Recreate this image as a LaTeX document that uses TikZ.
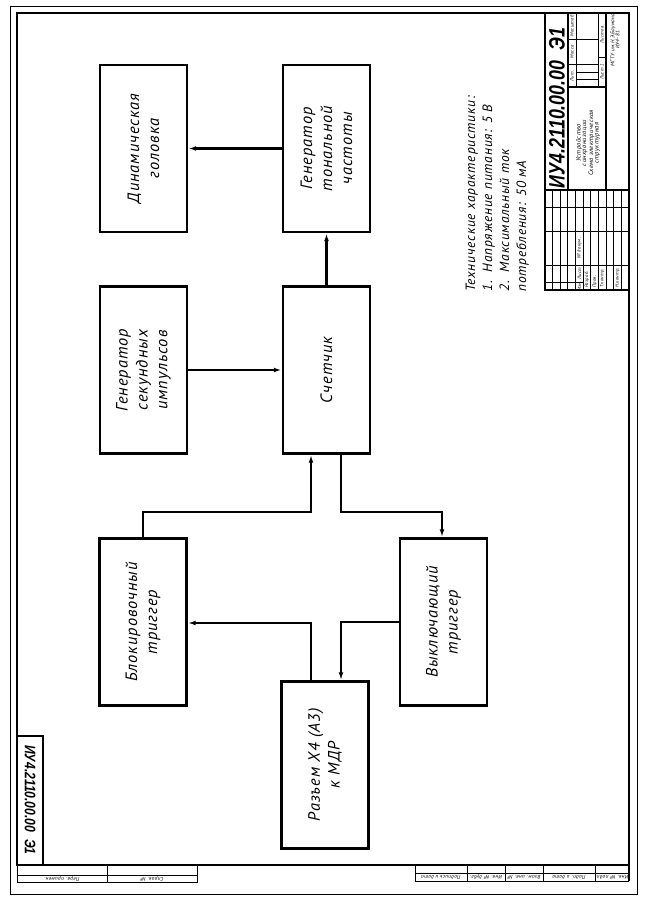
\documentclass[tikz,border=0pt]{standalone}
\usepackage{fontspec}
\setmainfont{PT Sans}[LetterSpace=6]
\newfontfamily\desfont{Liberation Sans}[FakeStretch=0.8]
\usetikzlibrary{arrows.meta}
\begin{document}
\begin{tikzpicture}[x=0.03cm,y=-0.03cm,
  box/.style={draw, line width=2.4pt, minimum width=2.61cm, minimum height=5.01cm, inner sep=0pt},
  btxt/.style={rotate=90, align=center, font=\fontsize{14}{17}\selectfont\itshape, inner sep=0pt},
  conn/.style={line width=2.1pt, -{Latex[length=6.5pt,width=4pt]}},
  ttxt/.style={rotate=90, anchor=base west, font=\fontsize{11.5}{13}\selectfont\itshape, inner sep=0pt},
  tl/.style={line width=0.7pt},
  tk/.style={line width=1.5pt},
  lbl/.style={rotate=90, font=\fontsize{4}{4.5}\selectfont\itshape, inner sep=0pt},
  slbl/.style={rotate=180, font=\fontsize{4.5}{5}\selectfont\itshape, inner sep=0pt}
]
\useasboundingbox (0,0) rectangle (645,903);
\fill[white] (0,0) rectangle (645,903);

% frames
\draw[line width=0.6pt] (10,6) rectangle (637,894);
\draw[line width=2.2pt] (17,13) rectangle (629,865);

% blocks
\node[box] (dyn) at (143.5,148.5) {};
\node[btxt] (dynt) at (dyn) {Динамическая\\головка};
\node[box] (ton) at (326.5,148.5) {};
\node[btxt] (tont) at (ton) {Генератор\\тональной\\частоты};
\node[box] (gsi) at (143.5,370) {};
\node[btxt] (gsit) at (gsi) {Генератор\\секундных\\импульсов};
\node[box] (cnt) at (326.5,370) {};
\node[btxt] (cntt) at (cnt) {Счетчик};
\node[box] (blk) at (143,622) {};
\node[btxt] (blkt) at (blk) {Блокировочный\\триггер};
\node[box] (vyk) at (443.5,622) {};
\node[btxt] (vykt) at (vyk) {Выключающий\\триггер};
\node[box] (raz) at (325,765) {};
\node[btxt] (razt) at (raz) {Разъем X4 (А3)\\к МДР};

% junctions
\coordinate (j1) at (311,512);
\coordinate (j2) at (341,512);
\coordinate (j3) at (442,512);
\coordinate (j4) at (311,623);
\coordinate (j5) at (341,623);

% connectors
\draw[conn] (ton.west) -- (dyn.east);
\draw[conn] (cnt.north) -- (ton.south);
\draw[conn] (gsi.east) -- (cnt.west);
\draw[conn] (blk.north) |- (j1) -- (j1 |- cnt.south);
\draw[conn] (j2 |- cnt.south) -- (j2) -- (j3) -- (j3 |- vyk.north);
\draw[conn] (j4 |- raz.north) -- (j4) -- (j4 -| blk.east);
\draw[conn] (vyk.west) -- (vyk.west -| j5) -- (j5 |- raz.north);

% technical characteristics
\node[ttxt] (t1) at (475,292) {Технические характеристики:};
\node[ttxt] (t2) at (492,292) {1.\ \ Напряжение питания: 5 В};
\node[ttxt] (t3) at (509,292) {2.\ \ Максимальный ток};
\node[ttxt] (t4) at (526,292) {потребления: 50 мА};

% title block
\draw[tk] (545,13) -- (545,290) -- (629,290);
\draw[tk] (545,190) -- (629,190);
\draw[tk] (568,13) -- (568,190);
\draw[tk] (606,13) -- (606,190);
\draw[tk] (568,87) -- (606,87);
\draw[tl] (576,13) -- (576,87);
\draw[tl] (598,13) -- (598,87);
\draw[tl] (568,39.5) -- (598,39.5);
\draw[tl] (568,64.6) -- (598,64.6);
\draw[tl] (576,72) -- (598,72);
\draw[tl] (576,79.5) -- (598,79.5);
\draw[tl] (598,57.5) -- (606,57.5);
\foreach \r in {552.6,560.3,567.9,575.5,583.2,590.8,598.5,606.1,613.7,621.4}
  \draw[tl] (\r,190) -- (\r,290);
\foreach \c in {207,231,265}
  \draw[tl] (545,\c) -- (629,\c);
\draw[tl] (545,282) -- (583.2,282);

\node[rotate=90, inner sep=0pt, font=\desfont\bfseries\itshape\fontsize{19}{21}\selectfont] (des) at (557,108) {ИУ4.2110.00.00\ \ Э1};
\node[rotate=90, align=center, inner sep=0pt, font=\fontsize{5.5}{4.6}\selectfont\itshape] (name) at (588,143) {Устройство\\синхронизации\\Схема электрическая\\структурная};
\node[rotate=90, align=center, inner sep=0pt, font=\fontsize{4.5}{4.3}\selectfont\itshape] (org) at (615,40) {МГТУ им.Н.Э.Баумана\\ИУ4-81};
\node[lbl] (l1) at (572,75.8) {Лит.};
\node[lbl] (l2) at (572,52) {Масса};
\node[lbl] (l3) at (572,26) {Масштаб};
\node[lbl] (l4) at (602,72) {Лист 1};
\node[lbl] (l5) at (602,35) {Листов};
\node[lbl] (l6) at (579.4,286) {Изм.};
\node[lbl] (l7) at (579.4,273.5) {Лист};
\node[lbl] (l8) at (579.4,248) {№ докум.};
\node[lbl, anchor=west] (l9) at (587,288) {Разраб.};
\node[lbl, anchor=west] (l10) at (594.6,288) {Пров.};
\node[lbl, anchor=west] (l11) at (602.3,288) {Т.контр.};
\node[lbl, anchor=west] (l12) at (617.5,288) {Н.контр.};

% designation box bottom-left
\draw[tk] (17,736) rectangle (43,865);
\node[rotate=-90, inner sep=0pt, font=\desfont\bfseries\itshape\fontsize{13}{15}\selectfont] (des2) at (30,800) {ИУ4.2110.00.00\ \ Э1};

% bottom strips
\draw[tl] (17,865) -- (17,882) -- (197,882) -- (197,865);
\draw[tl] (107,865) -- (107,882);
\draw[tl] (17,875) -- (197,875);
\node[slbl] (s1) at (62,878.5) {Перв. примен.};
\node[slbl] (s2) at (152,878.5) {Справ. №};

\draw[tl] (415,865) -- (415,881) -- (629,881);
\draw[line width=2.2pt] (629,865) -- (629,881);
\foreach \v in {467,505,543,595} \draw[tl] (\v,865) -- (\v,881);
\draw[tl] (415,873) -- (629,873);
\node[slbl] (s3) at (441,877) {Подпись и дата};
\node[slbl] (s4) at (486,877) {Инв. № дубл.};
\node[slbl] (s5) at (524,877) {Взам. инв. №};
\node[slbl] (s6) at (569,877) {Подп. и дата};
\node[slbl] (s7) at (612,877) {Инв. № подл.};
\end{tikzpicture}
\end{document}
